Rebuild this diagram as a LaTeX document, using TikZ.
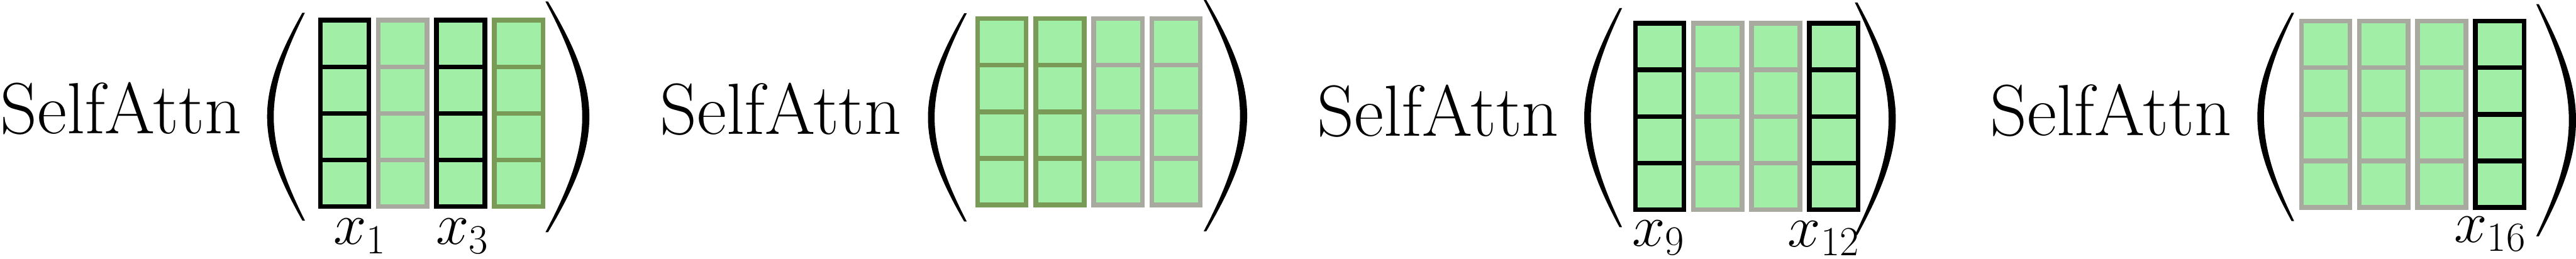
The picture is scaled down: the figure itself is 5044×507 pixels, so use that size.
\RequirePackage{fix-cm}
\documentclass[tikz,border=0pt]{standalone}
\usetikzlibrary{positioning}
\definecolor{cgreen}{HTML}{A1EFA7}
\definecolor{cgrey}{HTML}{A8AAA0}
\definecolor{colive}{HTML}{7A9A58}
\definecolor{cblack}{HTML}{000000}
\tikzset{
  cell/.style={draw=#1, fill=cgreen, line width=0.9mm, minimum width=9.5mm, minimum height=9.125mm, inner sep=0pt, outer sep=0pt},
  cell/.default=cblack,
  fname/.style={font=\fontsize{40.4}{48}\selectfont, inner sep=0pt, anchor=base west},
  idx/.style={font=\fontsize{33}{40}\selectfont, inner sep=0pt, anchor=base west},
}

\begin{document}
\begin{tikzpicture}[x=0.1mm, y=-0.1mm]
  \useasboundingbox (0,0) rectangle (5044,507);
  % function names
  \node[fname] (f1) at (0,262) {SelfAttn};
  \node[fname] (f2) at (1292,263) {SelfAttn};
  \node[fname] (f3) at (2579,267) {SelfAttn};
  \node[fname] (f4) at (3896,265) {SelfAttn};
  % token columns, one colour per column
  \foreach \p/\x/\y/\cs in {1/623/35/{cblack,cgrey,cblack,colive}, 2/1910/32/{colive,colive,cgrey,cgrey}, 3/3198/41/{cblack,cgrey,cgrey,cblack}, 4/4502/37/{cgrey,cgrey,cgrey,cblack}} {
    \foreach \c [count=\i] in \cs {
      \foreach \r in {1,...,4} {
        \node[cell=\c] (p\p-c\i-r\r) at ({\x+(\i-1)*113.5+52}, {\y+4.5+(\r-0.5)*91.25}) {};
      }
    }
  }
  % opening brackets
  \foreach \xe/\w/\ya/\yb in {592/69/25/432, 1888/71/26/434, 3171/69/16/445, 4487/67/25/433}
    \fill (\xe,\ya) .. controls ({\xe-4/3*\w},{\ya+0.4*(\yb-\ya)}) and ({\xe-4/3*\w},{\yb-0.4*(\yb-\ya)}) .. (\xe,\yb)
      -- ({\xe+5},\yb) .. controls ({\xe+5-4/3*(\w-8)},{\yb-0.4*(\yb-\ya)}) and ({\xe+5-4/3*(\w-8)},{\ya+0.4*(\yb-\ya)}) .. ({\xe+5},\ya) -- cycle;
  % closing brackets
  \foreach \xe/\w/\ya/\yb in {1073/81/3/455, 2362/80/0/453, 3637/75/5/460, 4971/73/8/463}
    \fill (\xe,\ya) .. controls ({\xe+4/3*\w},{\ya+0.4*(\yb-\ya)}) and ({\xe+4/3*\w},{\yb-0.4*(\yb-\ya)}) .. (\xe,\yb)
      -- ({\xe-5},\yb) .. controls ({\xe-5+4/3*(\w-9)},{\yb-0.4*(\yb-\ya)}) and ({\xe-5+4/3*(\w-9)},{\ya+0.4*(\yb-\ya)}) .. ({\xe-5},\ya) -- cycle;
  % token labels
  \node[idx] (l1) at (652,479) {$x_1$};
  \node[idx] (l3) at (853,479) {$x_3$};
  \node[idx] (l9) at (3195,482) {$x_9$};
  \node[idx] (l12) at (3500,483) {$x_{12}$};
  \node[idx] (l16) at (4805,475) {$x_{16}$};
\end{tikzpicture}
\end{document}
